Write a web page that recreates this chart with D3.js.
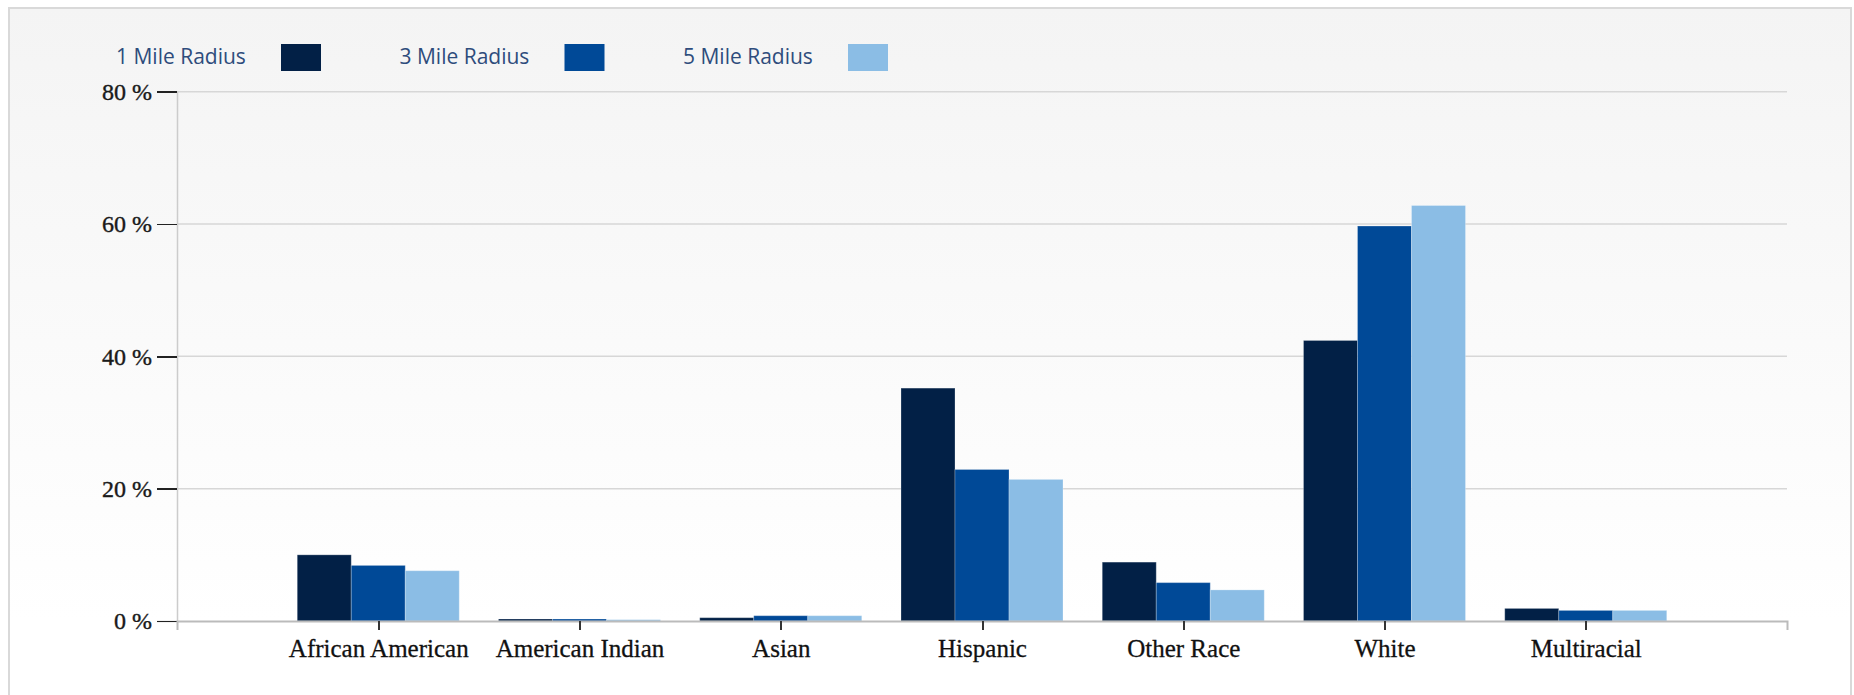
<!DOCTYPE html>
<html>
<head>
<meta charset="utf-8">
<script src="https://cdn.jsdelivr.net/npm/d3@7"></script>
<style>
    html, body { margin: 0; padding: 0; background: #fff; }
    #chart { display: block; }
    .tick line { shape-rendering: crispEdges; }
</style>
</head>
<body>
<svg id="chart" width="1854" height="695"></svg>
<script>
// Categories and series (percent of population)
var categories = ['African American', 'American Indian', 'Asian', 'Hispanic', 'Other Race', 'White', 'Multiracial'];
var seriesNames = ['1 Mile Radius', '3 Mile Radius', '5 Mile Radius'];
var seriesColors = ['#022046', '#004997', '#8bbde5'];

var mile1 = [10.0, 0.3, 0.5, 35.2, 8.9, 42.4, 1.9];
var mile3 = [8.4, 0.3, 0.8, 22.9, 5.8, 59.7, 1.6];
var mile5 = [7.6, 0.2, 0.8, 21.4, 4.7, 62.8, 1.6];

var yTicks = [0, 20, 40, 60, 80];

var seriesValues = [mile1, mile3, mile5];

var svg = d3.select('#chart');

// Panel background with soft vertical gradient
var defs = svg.append('defs');
var grad = defs.append('linearGradient')
    .attr('id', 'bg')
    .attr('x1', 0).attr('y1', 0)
    .attr('x2', 0).attr('y2', 1);
grad.append('stop').attr('offset', '0%').attr('stop-color', '#f4f4f4');
grad.append('stop').attr('offset', '85%').attr('stop-color', '#ffffff');

svg.append('rect')
    .attr('x', 9)
    .attr('y', 8)
    .attr('width', 1842)
    .attr('height', 720)
    .attr('fill', 'url(#bg)')
    .attr('stroke', '#d9d9d9')
    .attr('stroke-width', 2);

// Plot area edges (avoid the name "top", which is window.top)
var plotLeft = 177, plotRight = 1787, plotTop = 91.7, plotBottom = 621;

var x = d3.scalePoint()
    .domain(categories)
    .range([plotLeft, plotRight])
    .padding(1);

var groupWidth = x.step() * 0.805;

var xInner = d3.scaleBand()
    .domain(d3.range(seriesNames.length))
    .range([-groupWidth / 2, groupWidth / 2]);

var y = d3.scaleLinear()
    .domain([0, 80])
    .range([plotBottom, plotTop]);

// Gridlines
svg.append('g')
    .selectAll('line')
    .data(yTicks.filter(function (d) { return d > 0; }))
    .enter().append('line')
    .attr('x1', plotLeft)
    .attr('x2', plotRight)
    .attr('y1', function (d) { return y(d); })
    .attr('y2', function (d) { return y(d); })
    .attr('stroke', '#d7d7d7')
    .attr('stroke-width', 1.5);

// Bars
var rows = categories.map(function (c, i) {
    return { cat: c, values: seriesValues.map(function (s) { return s[i]; }) };
});

svg.append('g')
    .selectAll('g')
    .data(rows)
    .enter().append('g')
    .attr('transform', function (d) { return 'translate(' + x(d.cat) + ',0)'; })
    .selectAll('rect')
    .data(function (d) { return d.values; })
    .enter().append('rect')
    .attr('x', function (d, i) { return xInner(i); })
    .attr('width', xInner.bandwidth())
    .attr('y', function (d) { return y(d); })
    .attr('height', function (d) { return y(0) - y(d); })
    .attr('fill', function (d, i) { return seriesColors[i]; })
    .attr('stroke', 'rgba(255,255,255,0.25)')
    .attr('stroke-width', 1);

// Y axis
var yAxis = svg.append('g')
    .attr('transform', 'translate(' + plotLeft + ',0)')
    .call(d3.axisLeft(y)
        .tickValues(yTicks)
        .tickSize(20)
        .tickPadding(5)
        .tickFormat(function (d) { return d + ' %'; }));

yAxis.select('.domain').attr('stroke', '#cccccc').attr('stroke-width', 1.5);
yAxis.selectAll('.tick line').attr('stroke', '#222').attr('stroke-width', 1.5);
yAxis.selectAll('.tick text')
    .attr('fill', '#1a1a1a')
    .style('font-family', '"Liberation Serif", "DejaVu Serif", serif')
    .style('font-size', '24px')
    .style('stroke', '#1a1a1a')
    .style('stroke-width', 0.4);

// X axis
var xAxis = svg.append('g')
    .attr('transform', 'translate(0,' + plotBottom + ')')
    .call(d3.axisBottom(x)
        .tickSize(9)
        .tickSizeOuter(9)
        .tickPadding(9));

xAxis.select('.domain').attr('stroke', '#bbbbbb').attr('stroke-width', 2);
xAxis.selectAll('.tick line').attr('stroke', '#333').attr('stroke-width', 2);
xAxis.selectAll('.tick text')
    .attr('fill', '#111')
    .style('font-family', '"Liberation Serif", "DejaVu Serif", serif')
    .style('font-size', '25px')
    .style('stroke', '#111')
    .style('stroke-width', 0.3);

// Legend
var legend = svg.append('g')
    .selectAll('g')
    .data(seriesNames)
    .enter().append('g')
    .attr('transform', function (d, i) { return 'translate(' + (116 + i * 283.5) + ',0)'; });

legend.append('text')
    .attr('x', 0)
    .attr('y', 64)
    .attr('fill', '#2e4c7c')
    .style('font-family', '"Open Sans", sans-serif')
    .style('font-size', '21px')
    .text(function (d) { return d; });

legend.append('rect')
    .attr('x', 165)
    .attr('y', 44)
    .attr('width', 40)
    .attr('height', 27)
    .attr('fill', function (d, i) { return seriesColors[i]; });
</script>
</body>
</html>
